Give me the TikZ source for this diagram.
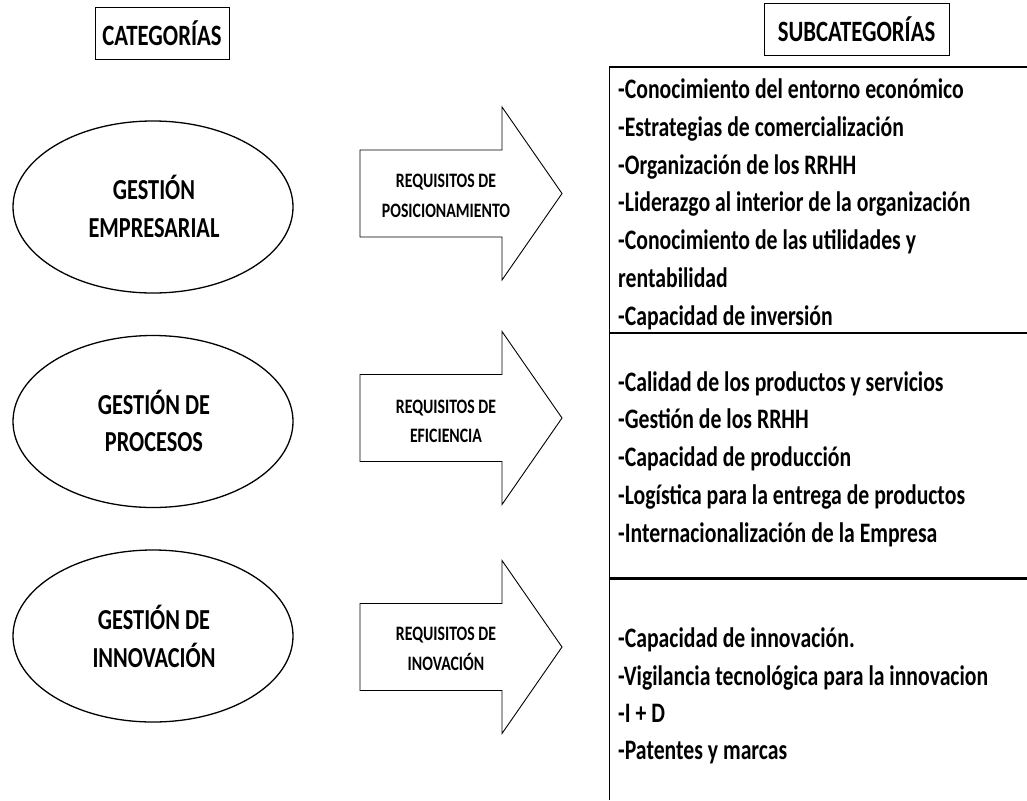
\documentclass[tikz,border=0pt]{standalone}
\usepackage{fontspec}
\newfontfamily\cf[FakeStretch=0.77]{Carlito}
\usetikzlibrary{shapes.geometric}
\begin{document}
\begin{tikzpicture}[x=1pt,y=-1pt,
  hdr/.style={draw,line width=1pt,inner sep=0pt,minimum width=#1,minimum height=52,font=\cf\bfseries\fontsize{29.5}{31}\selectfont},
  cat/.style={draw,ellipse,line width=1.3pt,inner sep=0pt,minimum width=280,minimum height=172},
  cattxt/.style={anchor=base,inner sep=0pt,font=\cf\bfseries\fontsize{29}{30}\selectfont},
  arr/.style={draw,line width=0.9pt,line join=miter},
  arrtxt/.style={anchor=base,inner sep=0pt,font=\cf\bfseries\fontsize{20.5}{22}\selectfont},
  item/.style={anchor=base west,inner sep=0pt,font=\cf\bfseries\fontsize{28.2}{30}\selectfont},
  rule/.style={line width=1.3pt},
  thick rule/.style={line width=3pt}
]
\useasboundingbox (0,0) rectangle (1027,800);
\fill[white] (0,0) rectangle (1027,800);

% headers
\node[hdr=134] (hcat) at (162,33.5) {CATEGORÍAS};
\node[hdr=185] (hsub) at (856.5,29.5) {SUBCATEGORÍAS};

% ellipses
\node[cat] (e1) at (153,207) {};
\node[cat] (e2) at (153,421.5) {};
\node[cat] (e3) at (153,636) {};
\node[cattxt] (e1a) at (154,199) {GESTIÓN};
\node[cattxt] (e1b) at (154,237) {EMPRESARIAL};
\node[cattxt] (e2a) at (154,414) {GESTIÓN DE};
\node[cattxt] (e2b) at (154,451) {PROCESOS};
\node[cattxt] (e3a) at (154,629) {GESTIÓN DE};
\node[cattxt] (e3b) at (154,667) {INNOVACIÓN};

% arrows
\foreach \c/\n in {193.5/a1,418/a2,647/a3}{
  \draw[arr] (360,\c-43.5) -- (502,\c-43.5) -- (502,\c-86.5) -- (562,\c)
     -- (502,\c+86.5) -- (502,\c+43.5) -- (360,\c+43.5) -- cycle;
}
\node[arrtxt] (t1a) at (446,187) {REQUISITOS DE};
\node[arrtxt] (t1b) at (446,217) {POSICIONAMIENTO};
\node[arrtxt] (t2a) at (446,413) {REQUISITOS DE};
\node[arrtxt] (t2b) at (446,442) {EFICIENCIA};
\node[arrtxt] (t3a) at (446,640) {REQUISITOS DE};
\node[arrtxt] (t3b) at (446,670) {INOVACIÓN};

% subcategory box
\coordinate (bl) at (609,800);
\coordinate (tl) at (609,67);
\coordinate (tr) at (1027,67);
\coordinate (m1l) at (609,333);
\coordinate (m1r) at (1027,333);
\coordinate (m2l) at (609,578);
\coordinate (m2r) at (1027,578);
\draw[line width=1pt] (bl) -- (tl);
\draw[rule] (tl) -- (tr);
\draw[rule] (m1l) -- (m1r);
\draw[thick rule] (m2l) -- (m2r);

% items
\node[item] (s1) at (618,98) {-Conocimiento del entorno económico};
\node[item] (s2) at (618,136) {-Estrategias de comercialización};
\node[item] (s3) at (618,174) {-Organización de los RRHH};
\node[item] (s4) at (618,211) {-Liderazgo al interior de la organización};
\node[item] (s5) at (618,249) {-Conocimiento de las utilidades y};
\node[item] (s6) at (618,287) {rentabilidad};
\node[item] (s7) at (618,325) {-Capacidad de inversión};

\node[item] (p1) at (618,391) {-Calidad de los productos y servicios};
\node[item] (p2) at (618,428) {-Gestión de los RRHH};
\node[item] (p3) at (618,466) {-Capacidad de producción};
\node[item] (p4) at (618,504) {-Logística para la entrega de productos};
\node[item] (p5) at (618,542) {-Internacionalización de la Empresa};

\node[item] (i1) at (618,647) {-Capacidad de innovación.};
\node[item] (i2) at (618,685) {-Vigilancia tecnológica para la innovacion};
\node[item] (i3) at (618,722) {-I + D};
\node[item] (i4) at (618,759) {-Patentes y marcas};
\end{tikzpicture}
\end{document}
